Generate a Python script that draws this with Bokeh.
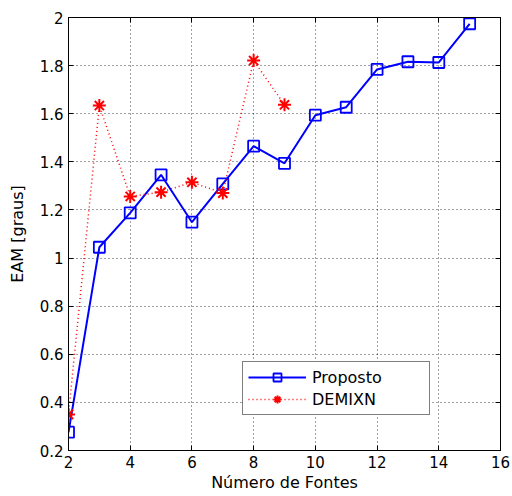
from bokeh.plotting import figure
from bokeh.models import LinearAxis, FixedTicker, Legend, LegendItem, Range1d
from bokeh.embed import file_html
from bokeh.resources import INLINE

x_proposto = [2, 3, 4, 5, 6, 7, 8, 9, 10, 11, 12, 13, 14, 15]
y_proposto = [0.276, 1.045, 1.188, 1.346, 1.149, 1.308, 1.465, 1.394,
              1.594, 1.627, 1.784, 1.816, 1.813, 1.974]
x_demixn = [2, 3, 4, 5, 6, 7, 8, 9]
y_demixn = [0.35, 1.634, 1.256, 1.274, 1.315, 1.27, 1.821, 1.637]
x_ticks = [2, 4, 6, 8, 10, 12, 14, 16]
y_ticks = [0.2, 0.4, 0.6, 0.8, 1.0, 1.2, 1.4, 1.6, 1.8, 2.0]
y_tick_labels = ["0.2", "0.4", "0.6", "0.8", "1", "1.2", "1.4", "1.6", "1.8", "2"]

FONT = "DejaVu Sans"

p = figure(frame_width=432, frame_height=433,
           x_range=Range1d(2, 16), y_range=Range1d(0.2, 2),
           output_backend="svg", toolbar_location=None,
           min_border_left=68, min_border_right=12,
           min_border_top=17, min_border_bottom=46,
           background_fill_color="white", border_fill_color="white")

p.outline_line_color = "black"
p.outline_line_width = 1

# main axes
for ax in (p.xaxis[0], p.yaxis[0]):
    ax.major_tick_in = 5
    ax.major_tick_out = 0
    ax.minor_tick_in = 0
    ax.minor_tick_out = 0
    ax.axis_line_color = "black"
    ax.major_tick_line_color = "black"
    ax.major_label_text_font = FONT
    ax.major_label_text_font_size = "15px"
    ax.major_label_text_color = "black"
    ax.axis_label_text_font = FONT
    ax.axis_label_text_font_size = "16px"
    ax.axis_label_text_font_style = "normal"
    ax.axis_label_text_color = "black"

p.xaxis[0].ticker = FixedTicker(ticks=x_ticks)
p.yaxis[0].ticker = FixedTicker(ticks=y_ticks)
p.yaxis[0].major_label_overrides = {t: l for t, l in zip(y_ticks, y_tick_labels)}
p.xaxis[0].axis_label = "Número de Fontes"
p.yaxis[0].axis_label = "EAM [graus]"
p.xaxis[0].major_label_standoff = 5
p.xaxis[0].axis_label_standoff = 2
p.yaxis[0].major_label_standoff = 5
p.yaxis[0].axis_label_standoff = 10

# box axes (right / top) with inward ticks, no labels
for loc, tick in (("right", y_ticks), ("above", x_ticks)):
    ax = LinearAxis(ticker=FixedTicker(ticks=tick))
    ax.major_label_overrides = {t: "" for t in tick}
    ax.major_label_standoff = 0
    ax.major_tick_in = 5
    ax.major_tick_out = 0
    ax.minor_tick_in = 0
    ax.minor_tick_out = 0
    ax.axis_line_color = "black"
    ax.major_tick_line_color = "black"
    p.add_layout(ax, loc)

# grid
for g in (p.xgrid[0], p.ygrid[0]):
    g.grid_line_color = "black"
    g.grid_line_dash = "1 3"
    g.grid_line_alpha = 0.75
    g.grid_line_width = 1
p.xgrid[0].ticker = FixedTicker(ticks=x_ticks)
p.ygrid[0].ticker = FixedTicker(ticks=y_ticks)

# series
l1 = p.line(x_proposto, y_proposto, line_color="#0000ff", line_width=2)
s1 = p.scatter(x_proposto, y_proposto, marker="square", size=11,
               line_color="#0000ff", fill_color=None, line_width=1.8)
l2 = p.line(x_demixn, y_demixn, line_color="#ff0000", line_width=1.5,
            line_dash="1 3")
s2 = p.scatter(x_demixn, y_demixn, marker="asterisk", size=13,
               line_color="#ff0000", line_width=2)

legend = Legend(items=[LegendItem(label="Proposto", renderers=[l1, s1]),
                       LegendItem(label="DEMIXN", renderers=[l2, s2])],
                location=(174, 35))
legend.glyph_width = 58
legend.glyph_height = 20
legend.label_text_font = FONT
legend.label_text_font_size = "16px"
legend.label_text_color = "black"
legend.label_standoff = 6
legend.label_height = 20
legend.label_width = 112
legend.spacing = 2
legend.padding = 5
legend.margin = 0
legend.border_line_color = "black"
legend.border_line_width = 1
legend.background_fill_color = "white"
legend.background_fill_alpha = 1
p.add_layout(legend)

open("out.html", "w").write(file_html(p, INLINE))
